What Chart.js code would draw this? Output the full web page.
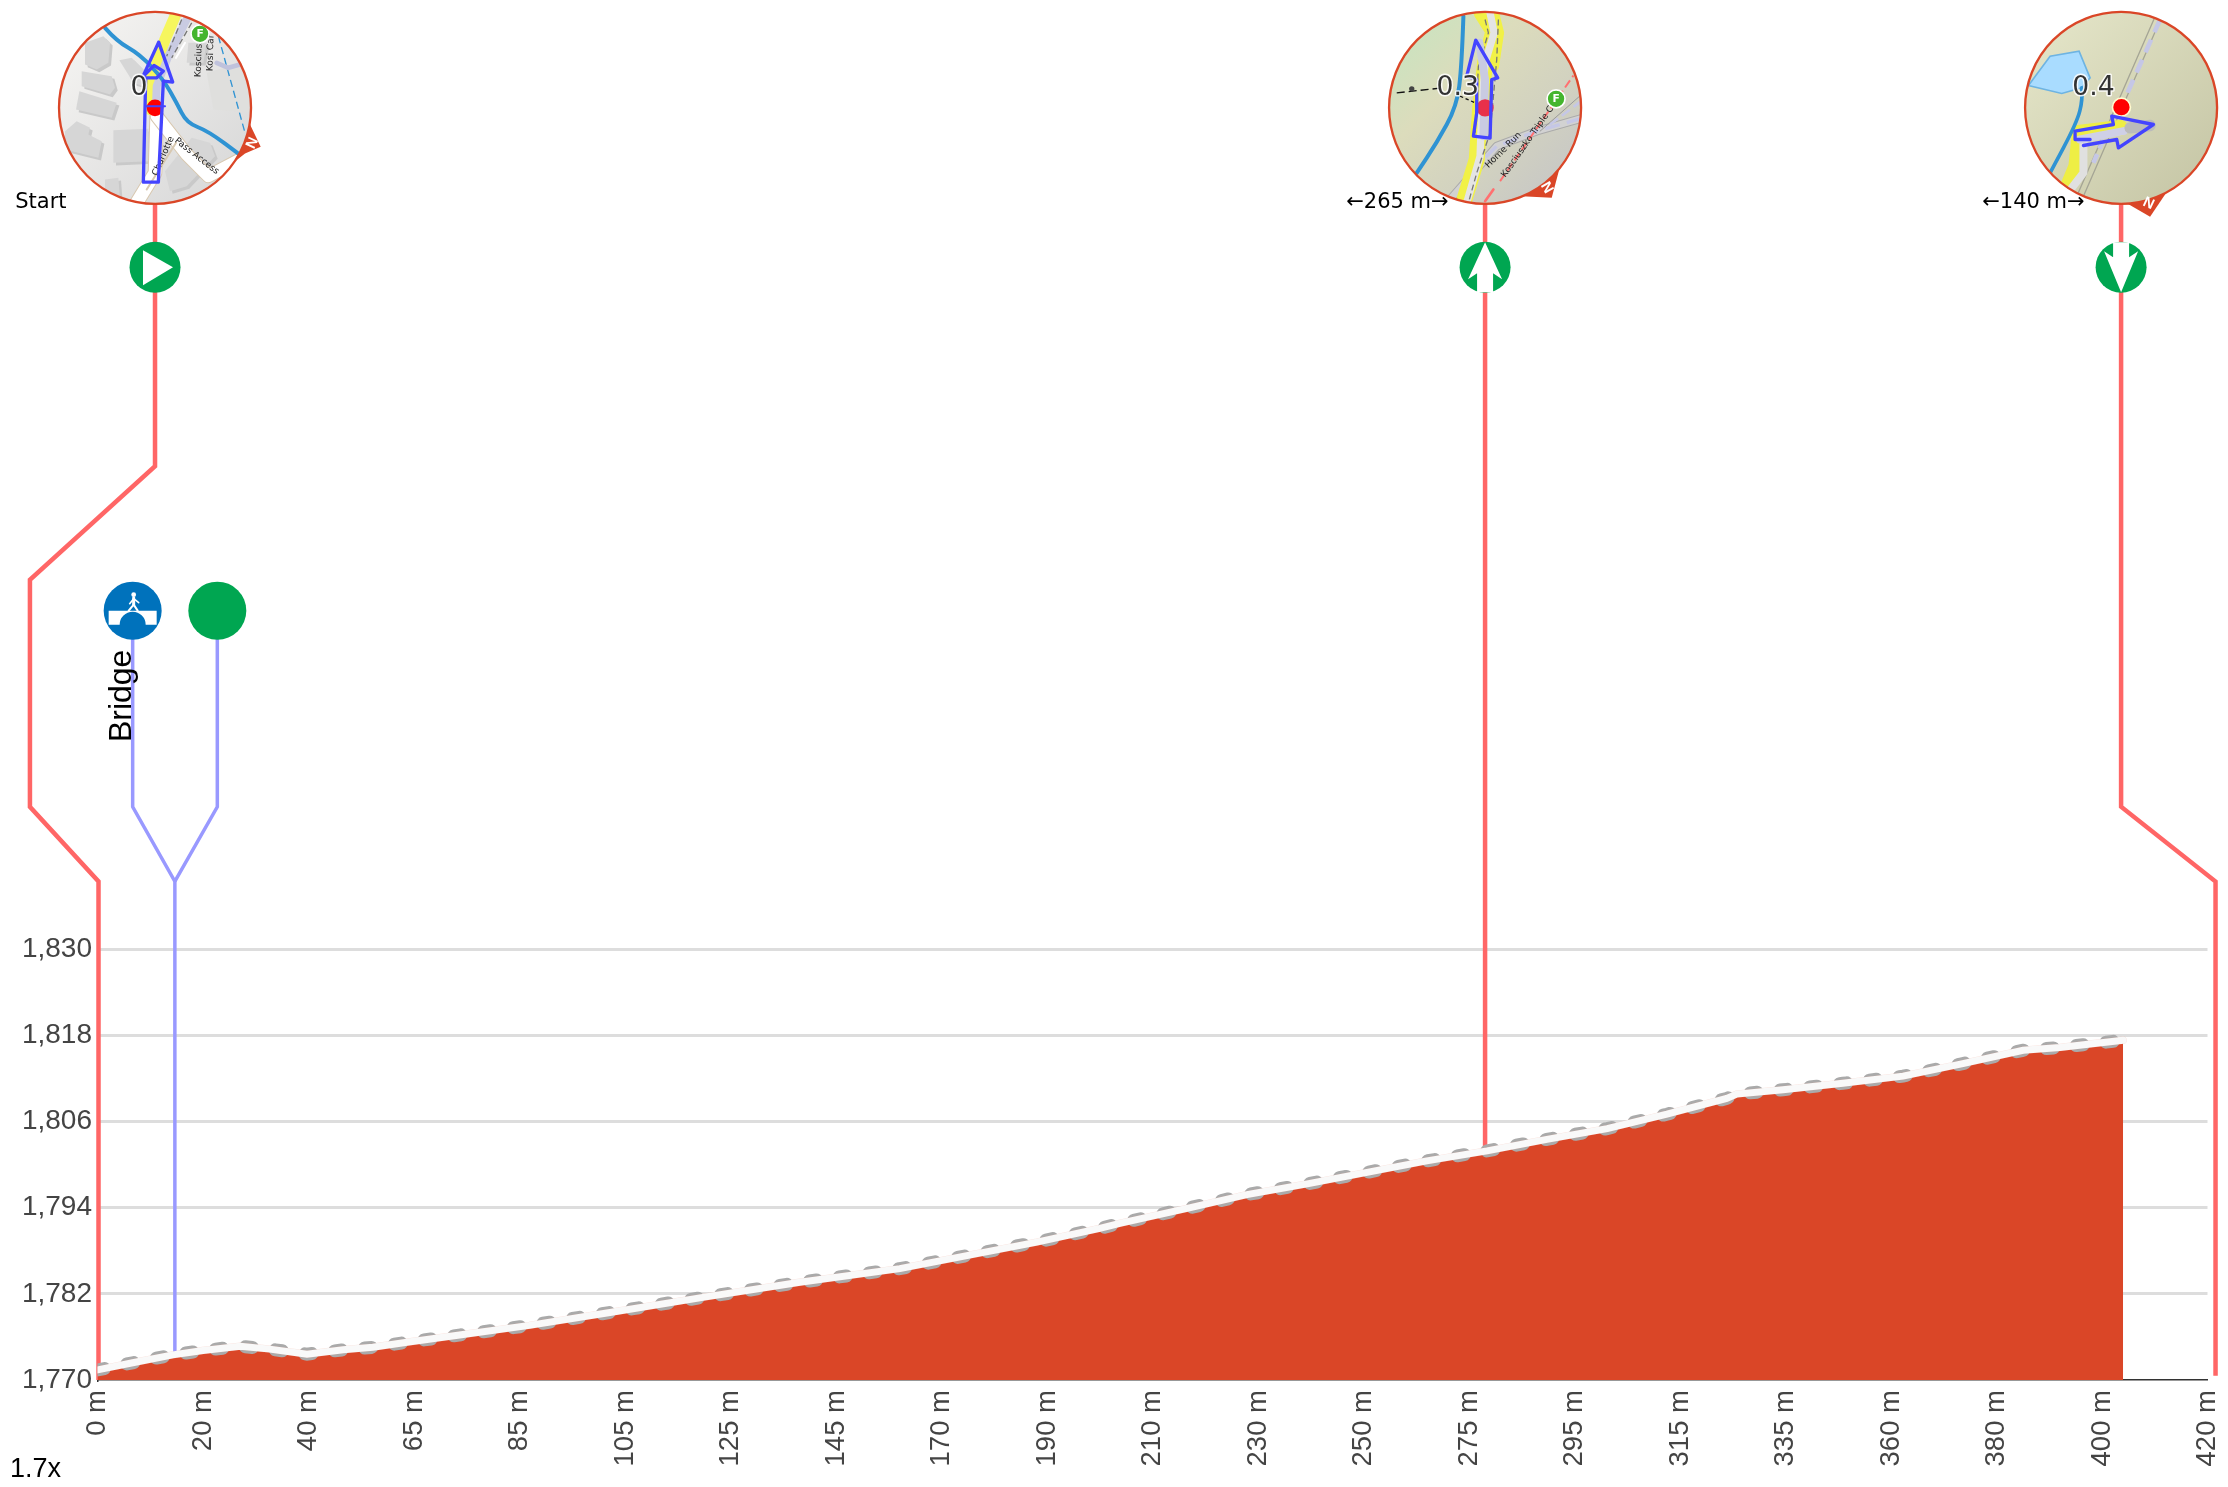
<!DOCTYPE html>
<html>
<head>
<meta charset="utf-8">
<title>Elevation profile</title>
<script src="https://cdn.jsdelivr.net/npm/chart.js@4"></script>
<style>
  html, body { margin: 0; padding: 0; background: #fff; }
  #wrap { width: 2228px; height: 1487px; overflow: hidden; }
</style>
</head>
<body>
<div id="wrap"><canvas id="profileChart" width="2228" height="1487"></canvas></div>
<script>
// distance along the route (metres)
const distances = [0, 7, 15, 21, 28.4, 34.3, 41.7, 48.9, 54.8, 61.6, 73.5, 86, 102, 120.5, 139.8, 159.7, 175.1, 187, 199.5, 203.5, 216.9, 228.8, 240.8, 252.7, 264.6, 276.6, 288.5, 300.5, 312.4, 324.3, 326.3, 335.5, 347.4, 359.4, 371.3, 383.3, 390.6, 403.2];
const elevations = [1771.4, 1772.4, 1773.5, 1774.1, 1774.7, 1774.3, 1773.6, 1774.2, 1774.55, 1775.25, 1776.4, 1777.6, 1779.4, 1781.5, 1783.6, 1785.5, 1787.6, 1789.2, 1791.1, 1791.8, 1793.9, 1795.8, 1797.3, 1798.9, 1800.5, 1801.9, 1803.5, 1805, 1807, 1809.2, 1809.8, 1810.4, 1811.3, 1812.3, 1814.05, 1815.9, 1816.3, 1817.3];

const xTickLabels = ['0 m', '20 m', '40 m', '65 m', '85 m', '105 m', '125 m', '145 m', '170 m', '190 m', '210 m', '230 m', '250 m', '275 m', '295 m', '315 m', '335 m', '360 m', '380 m', '400 m', '420 m'];
const yTickLabels = ['1,770', '1,782', '1,794', '1,806', '1,818', '1,830'];

// leader lines, same units as the axes
const startLeaderX = [11.45, 11.45, -13.45, -13.45, 0.2, 0.2];
const startLeaderY = [1933.8, 1897.2, 1881.4, 1849.8, 1839.4, 1770];
const midLeaderX = [276.2, 276.2];
const midLeaderY = [1933.8, 1802.3];
// listed from the bottom up: a rising x would count as sorted and lose the part past the axis max
const endLeaderX = [421.6, 421.6, 402.8, 402.8];
const endLeaderY = [1770.6, 1839.4, 1849.8, 1933.8];
const bridgeLeaderX = [7, 7, 15.4, 15.4];
const bridgeLeaderY = [1877.1, 1849.8, 1839.4, 1773.8];
const greenLeaderX = [23.85, 23.85, 15.4];
const greenLeaderY = [1877.1, 1849.8, 1839.4];

const waypointX = [11.45, 276.2, 402.8];
const waypointLevel = [1924.9, 1924.9, 1924.9];
const mapLevel = 1947.1;
const featureX = [7, 23.85];
const featureLevel = [1877.1, 1877.1];

const RED = '#da4627';
const LEADER = '#ff6666';
const LILAC = '#9999ff';
const GREEN = '#00a651';
const ARROW = '#4444ff';

function pts(xs, ys) {
    return xs.map((x, i) => ({ x: x, y: ys[i] }));
}

function leader(xs, ys, color) {
    return {
        type: 'line', data: pts(xs, ys), borderColor: color, borderWidth: color === LEADER ? 4.5 : 3.5,
        pointRadius: 0, clip: false, fill: false, tension: 0, order: 6
    };
}

// profile strokes may overrun at the far end but are cut at the y axis
function band(color, width, dash) {
    return {
        data: pts(distances, elevations), borderColor: color, borderWidth: width, borderDash: dash || [],
        borderCapStyle: 'round', pointRadius: 0, fill: false, tension: 0,
        clip: { left: 0, top: false, right: false, bottom: false }
    };
}

// ---- map inset drawing, coordinates are in a 3x frame
function poly(ctx, p, close) {
    ctx.beginPath();
    p.forEach((q, i) => i ? ctx.lineTo(q[0], q[1]) : ctx.moveTo(q[0], q[1]));
    if (close) ctx.closePath();
}
function stroke(ctx, p, color, w, dash) {
    poly(ctx, p);
    ctx.strokeStyle = color;
    ctx.lineWidth = w;
    ctx.lineJoin = 'round';
    ctx.lineCap = dash ? 'butt' : 'round';
    ctx.setLineDash(dash || []);
    ctx.stroke();
    ctx.setLineDash([]);
}
// same as stroke, rounded through the midpoints
function curve(ctx, p, color, w) {
    ctx.beginPath();
    ctx.moveTo(p[0][0], p[0][1]);
    for (let i = 1; i < p.length - 1; i++) {
        ctx.quadraticCurveTo(p[i][0], p[i][1], (p[i][0] + p[i + 1][0]) / 2, (p[i][1] + p[i + 1][1]) / 2);
    }
    ctx.lineTo(p[p.length - 1][0], p[p.length - 1][1]);
    ctx.strokeStyle = color;
    ctx.lineWidth = w;
    ctx.lineCap = 'round';
    ctx.stroke();
}
function fillPoly(ctx, p, color) {
    poly(ctx, p, true);
    ctx.fillStyle = color;
    ctx.fill();
}
function rotText(ctx, str, x, y, deg, size, color) {
    ctx.save();
    ctx.translate(x, y);
    ctx.rotate(deg * Math.PI / 180);
    ctx.font = size + 'px "DejaVu Sans"';
    ctx.fillStyle = color || '#222';
    ctx.textAlign = 'center';
    ctx.textBaseline = 'middle';
    ctx.fillText(str, 0, 0);
    ctx.restore();
}
function haloText(ctx, str, x, y) {
    ctx.font = '80px "DejaVu Sans"';
    ctx.textAlign = 'center';
    ctx.textBaseline = 'middle';
    ctx.lineWidth = 9;
    ctx.lineJoin = 'round';
    ctx.strokeStyle = 'rgba(255,255,255,0.85)';
    ctx.strokeText(str, x, y);
    ctx.fillStyle = '#333';
    ctx.fillText(str, x, y);
}
function dot(ctx, x, y, r, color, ring) {
    ctx.beginPath();
    ctx.arc(x, y, r, 0, Math.PI * 2);
    ctx.fillStyle = color;
    ctx.fill();
    if (ring) { ctx.strokeStyle = ring; ctx.lineWidth = 5; ctx.stroke(); }
}
function liftIcon(ctx, x, y) {
    dot(ctx, x, y, 27, '#44b52e', '#fff');
    ctx.font = 'bold 32px "DejaVu Sans"';
    ctx.fillStyle = '#fff';
    ctx.textAlign = 'center';
    ctx.textBaseline = 'middle';
    ctx.fillText('F', x, y + 1);
}

function mapFrame(ctx, cx, cy, tail, n, bg, paint) {
    fillPoly(ctx, tail, RED);
    ctx.save();
    ctx.beginPath();
    ctx.arc(cx, cy, 288, 0, Math.PI * 2);
    ctx.clip();
    const g = ctx.createLinearGradient(cx - 250, cy - 250, cx + 250, cy + 250);
    bg.forEach((col, i) => g.addColorStop(i / (bg.length - 1), col));
    ctx.fillStyle = g;
    ctx.fillRect(cx - 300, cy - 300, 600, 600);
    paint(ctx);
    ctx.restore();
    ctx.beginPath();
    ctx.arc(cx, cy, 288, 0, Math.PI * 2);
    ctx.strokeStyle = RED;
    ctx.lineWidth = 7;
    ctx.stroke();
    ctx.save();
    ctx.translate(n[0], n[1]);
    ctx.rotate(n[2] * Math.PI / 180);
    ctx.font = 'bold 44px "Liberation Sans"';
    ctx.fillStyle = '#fff';
    ctx.textAlign = 'center';
    ctx.textBaseline = 'middle';
    ctx.fillText('N', 0, 0);
    ctx.restore();
}

function mapStart(ctx) {
    const tail = [[735, 375], [750, 375], [782, 442], [735, 462], [700, 490]];
    mapFrame(ctx, 465, 325, tail, [752, 428, 115], ['#f5f4f2', '#d8d8d8'], function (c) {
        fillPoly(c, [[620, 220], [760, 180], [770, 340], [640, 330]], '#dfdfdd');
        const houses = [
            [[255, 130], [310, 110], [330, 130], [325, 190], [290, 210], [255, 195]],
            [[358, 182], [395, 175], [445, 225], [430, 260], [400, 250]],
            [[245, 215], [335, 230], [345, 265], [330, 285], [245, 260]],
            [[238, 275], [350, 310], [335, 355], [228, 330]],
            [[195, 395], [230, 365], [270, 385], [265, 405], [305, 425], [295, 475], [195, 450]],
            [[340, 392], [445, 388], [450, 485], [340, 490]],
            [[315, 540], [355, 535], [360, 600], [315, 600]],
            [[495, 515], [575, 415], [630, 430], [645, 470], [560, 560], [510, 575]],
            [[565, 130], [620, 130], [610, 190], [560, 190]]
        ];
        houses.forEach(h => fillPoly(c, h.map(q => [q[0] + 8, q[1] + 8]), '#c9c9c9'));
        houses.forEach(h => fillPoly(c, h, '#d6d6d6'));
        stroke(c, [[410, 610], [465, 520], [470, 350]], '#d8c8b0', 44);
        stroke(c, [[410, 610], [465, 520], [470, 350]], '#fff', 38);
        stroke(c, [[470, 350], [560, 465], [625, 530], [720, 480]], '#d8c8b0', 42);
        stroke(c, [[470, 350], [560, 465], [625, 530], [720, 480]], '#fff', 36);
        stroke(c, [[528, 430], [440, 570]], '#d8c8b0', 6);
        stroke(c, [[525, 50], [495, 120], [455, 230], [450, 330]], '#f6f65e', 34);
        stroke(c, [[560, 60], [505, 170], [470, 260], [468, 320]], '#c9cbe2', 24);
        stroke(c, [[545, 60], [500, 170]], '#777', 4, [18, 10]);
        stroke(c, [[575, 70], [515, 175]], '#777', 4, [18, 10]);
        curve(c, [[315, 85], [350, 125], [420, 165], [490, 240], [530, 310], [560, 370], [625, 395], [725, 470]], '#2f93d3', 12);
        stroke(c, [[655, 110], [735, 400]], '#2f93d3', 4, [22, 12]);
        stroke(c, [[650, 190], [685, 205], [720, 195]], '#bfc2dc', 14);
        rotText(c, 'Charlotte', 490, 470, -66, 27);
        rotText(c, 'Pass Access', 590, 470, 38, 27);
        rotText(c, 'Kosciuszko', 597, 160, -88, 27);
        rotText(c, 'Kosi Car', 632, 160, -88, 27);
        liftIcon(c, 600, 103);
        stroke(c, [[528, 175], [555, 130]], '#fff', 6);
        dot(c, 465, 325, 25, '#f00');
        stroke(c, [[437, 320], [495, 320]], ARROW, 6);
        stroke(c, [[430, 548], [475, 548], [490, 245], [518, 248], [476, 128], [428, 232], [462, 198], [490, 215], [470, 235], [437, 235], [430, 548]], ARROW, 10);
        haloText(c, '0', 417, 265);
    });
}

function mapMid(ctx) {
    const tail = [[605, 590], [695, 595], [718, 508], [660, 560]];
    mapFrame(ctx, 495, 325, tail, [680, 565, 60], ['#c8e4c0', '#dcdcbc', '#d2d2c0', '#c6c6c6'], function (c) {
        stroke(c, [[390, 600], [530, 440], [650, 395], [790, 355]], '#aaa', 26);
        stroke(c, [[390, 600], [530, 440], [650, 395], [790, 355]], '#d2d2d2', 20);
        stroke(c, [[450, 520], [530, 440], [650, 395], [790, 355]], '#c5c7e6', 10, [45, 22]);
        stroke(c, [[660, 395], [790, 280]], '#999', 3);
        stroke(c, [[690, 375], [790, 300]], '#c5c7e6', 8, [30, 14]);
        stroke(c, [[485, 40], [520, 95], [495, 190], [480, 330], [470, 480], [430, 610]], '#f1f146', 48);
        stroke(c, [[525, 40], [540, 100], [525, 200]], '#f1f146', 24);
        stroke(c, [[510, 40], [522, 100], [495, 190], [485, 330], [480, 470], [440, 610]], '#e4e4e4', 22);
        stroke(c, [[495, 60], [505, 100], [475, 200], [465, 400]], '#777', 4, [18, 10]);
        stroke(c, [[535, 60], [530, 180], [510, 400], [470, 520], [445, 610]], '#777', 4, [18, 10]);
        stroke(c, [[478, 130], [495, 240], [490, 410]], '#c9cbe2', 24);
        curve(c, [[430, 50], [425, 200], [410, 320], [350, 430], [290, 520]], '#2f93d3', 12);
        stroke(c, [[495, 605], [520, 570]], '#ff7070', 8);
        stroke(c, [[540, 545], [760, 228]], '#ff7070', 6, [26, 12]);
        rotText(c, 'Home Run', 550, 452, -45, 27);
        rotText(c, 'Kosciuszko Triple Chair', 638, 405, -55, 27);
        liftIcon(c, 708, 298);
        stroke(c, [[230, 280], [360, 266]], '#111', 4, [24, 12]);
        stroke(c, [[420, 290], [470, 312]], '#111', 4, [10, 8]);
        dot(c, 275, 268, 8, '#444');
        dot(c, 495, 325, 26, '#e8304a');
        stroke(c, [[460, 410], [510, 416], [515, 240], [533, 235], [467, 122], [440, 230], [470, 240], [470, 340], [460, 410]], ARROW, 10);
        haloText(c, '0.3', 413, 265);
    });
}

function mapEnd(ctx) {
    const tail = [[495, 608], [570, 652], [625, 570]];
    mapFrame(ctx, 483, 325, tail, [565, 612, 25], ['#e4e5c8', '#c6c6a6'], function (c) {
        fillPoly(c, [[205, 258], [270, 170], [357, 155], [390, 235], [365, 265], [305, 282]], '#a9dcff');
        poly(c, [[205, 258], [270, 170], [357, 155], [390, 235], [365, 265], [305, 282]], true);
        c.strokeStyle = '#6eb4e2';
        c.lineWidth = 5;
        c.stroke();
        stroke(c, [[610, 40], [370, 590]], '#a5a595', 4);
        stroke(c, [[590, 40], [350, 590]], '#a5a595', 4);
        stroke(c, [[600, 60], [480, 330]], '#c5c7e6', 14, [42, 24]);
        stroke(c, [[430, 420], [400, 490]], '#c5c7e6', 14, [30, 18]);
        stroke(c, [[355, 400], [345, 500], [320, 560]], '#eeee44', 40);
        stroke(c, [[355, 400], [480, 385]], '#eeee44', 48);
        stroke(c, [[370, 430], [370, 520], [335, 565]], '#e0e0e0', 24);
        stroke(c, [[360, 420], [490, 395]], '#cfd0e6', 24);
        stroke(c, [[510, 385], [570, 378]], '#bbb', 34);
        curve(c, [[365, 265], [368, 300], [350, 370], [270, 520]], '#2f93d3', 11);
        dot(c, 484, 323, 27, '#f00', '#fffbd0');
        stroke(c, [[370, 438], [470, 420], [475, 445], [580, 375], [455, 350], [460, 375], [345, 395], [345, 420], [390, 420]], ARROW, 10);
        haloText(c, '0.4', 400, 265);
    });
}

function framed(ctx, x, y, ox, oy, paint) {
    ctx.save();
    ctx.translate(x, y);
    ctx.scale(1 / 3, 1 / 3);
    ctx.translate(-ox, -oy);
    paint(ctx);
    ctx.restore();
}

const insetPlugin = {
    id: 'insets',
    afterDatasetsDraw(chart) {
        const ctx = chart.ctx;
        const xs = chart.scales.x, ys = chart.scales.y;
        const top = ys.getPixelForValue(mapLevel);
        const px = waypointX.map(v => xs.getPixelForValue(v));
        const iconY = ys.getPixelForValue(waypointLevel[0]);

        // points outside the chart area are skipped by the point element, so discs go here
        px.forEach(p => dot(ctx, p, iconY, 25.5, GREEN));
        const fy = ys.getPixelForValue(featureLevel[0]);
        dot(ctx, xs.getPixelForValue(featureX[0]), fy, 29, '#0072bc');
        dot(ctx, xs.getPixelForValue(featureX[1]), fy, 29, GREEN);

        // waypoint glyphs on the green discs
        ctx.save();
        ctx.translate(px[0], iconY);
        fillPoly(ctx, [[-12, -17], [18, 0], [-12, 18]], '#fff');
        ctx.restore();
        ctx.save();
        ctx.translate(px[1], iconY);
        fillPoly(ctx, [[0, -25], [17, 12], [8, 6], [8, 25], [-8, 25], [-8, 6], [-17, 12]], '#fff');
        ctx.restore();
        ctx.save();
        ctx.translate(px[2], iconY);
        fillPoly(ctx, [[-8, -25], [8, -25], [8, -10], [17, -16], [0, 25], [-17, -16], [-8, -10]], '#fff');
        ctx.restore();

        framed(ctx, px[0], top, 465, 325, mapStart);
        framed(ctx, px[1], top, 495, 325, mapMid);
        framed(ctx, px[2], top, 483, 325, mapEnd);

        // pedestrian bridge icon
        const bx = xs.getPixelForValue(featureX[0]), by = fy;
        ctx.save();
        ctx.translate(bx, by);
        ctx.beginPath();
        ctx.moveTo(-24, 0);
        ctx.lineTo(24, 0);
        ctx.lineTo(24, 14);
        ctx.lineTo(13, 14);
        ctx.arc(0, 14, 13, 0, Math.PI, true);
        ctx.lineTo(-24, 14);
        ctx.closePath();
        ctx.fillStyle = '#fff';
        ctx.fill();
        dot(ctx, 1, -16, 2.4, '#fff');
        stroke(ctx, [[1, -13], [1, -6]], '#fff', 3);
        stroke(ctx, [[1, -6], [-4, 0]], '#fff', 2);
        stroke(ctx, [[1, -6], [5, 0]], '#fff', 2);
        stroke(ctx, [[1, -12], [6, -8]], '#fff', 1.6);
        stroke(ctx, [[1, -12], [-3, -7]], '#fff', 1.6);
        ctx.restore();

        // text labels
        ctx.font = '21px "DejaVu Sans"';
        ctx.fillStyle = '#000';
        ctx.textAlign = 'right';
        ctx.textBaseline = 'alphabetic';
        ctx.fillText('Start', px[0] - 88.5, 208);
        ctx.fillText('\u2190265 m\u2192', px[1] - 36.5, 208);
        ctx.fillText('\u2190140 m\u2192', px[2] - 36.5, 208);

        ctx.save();
        ctx.translate(bx - 2, ys.getPixelForValue(1858.8));
        ctx.rotate(-Math.PI / 2);
        ctx.font = '32px "Liberation Sans"';
        ctx.textAlign = 'left';
        ctx.fillText('Bridge', 0, 0);
        ctx.restore();

        ctx.font = '27px "Liberation Sans"';
        ctx.textAlign = 'left';
        ctx.fillText('1.7x', 10, 1477);
    }
};

new Chart(document.getElementById('profileChart'), {
    type: 'line',
    data: {
        datasets: [
            // elevation area, then white core on a dashed grey casing
            { data: pts(distances, elevations), borderColor: 'transparent', borderWidth: 0, backgroundColor: RED, fill: 'start', pointRadius: 0, tension: 0, order: 5 },
            leader(startLeaderX, startLeaderY, LEADER),
            leader(midLeaderX, midLeaderY, LEADER),
            leader(endLeaderX, endLeaderY, LEADER),
            leader(bridgeLeaderX, bridgeLeaderY, LILAC),
            leader(greenLeaderX, greenLeaderY, LILAC),
            Object.assign(band('#aaaaaa', 13, [7, 23]), { order: 4 }),
            Object.assign(band('rgba(240,150,130,0.3)', 7.5), { order: 3 }),
            Object.assign(band('#f9f9f9', 7), { order: 2 })
        ]
    },
    options: {
        responsive: false,
        animation: false,
        events: [],
        layout: { autoPadding: false, padding: { top: 949, right: 20.5, left: 0, bottom: 0 } },
        plugins: { legend: { display: false }, tooltip: { enabled: false } },
        scales: {
            x: {
                type: 'linear', min: 0, max: 420,
                afterFit(axis) { axis.height = 107; axis.paddingLeft = 0; axis.paddingRight = 0; },
                grid: { display: false },
                border: { display: true, color: '#333', width: 1.5 },
                ticks: {
                    stepSize: 21, autoSkip: false, minRotation: 90, maxRotation: 90, padding: 2,
                    color: '#444', font: { family: 'Liberation Sans', size: 27.5 },
                    callback: (v, i) => xTickLabels[i]
                }
            },
            y: {
                type: 'linear', min: 1770, max: 1830,
                afterFit(axis) { axis.width = 97.5; },
                grid: { drawTicks: false, lineWidth: 3, color: c => c.index === 0 ? 'rgba(0,0,0,0)' : '#dddddd' },
                border: { display: true, color: '#333', width: 1.5 },
                ticks: {
                    stepSize: 12, padding: 5.5,
                    color: '#444', font: { family: 'Liberation Sans', size: 28 },
                    callback: (v, i) => yTickLabels[i]
                }
            }
        }
    },
    plugins: [insetPlugin]
});
</script>
</body>
</html>
